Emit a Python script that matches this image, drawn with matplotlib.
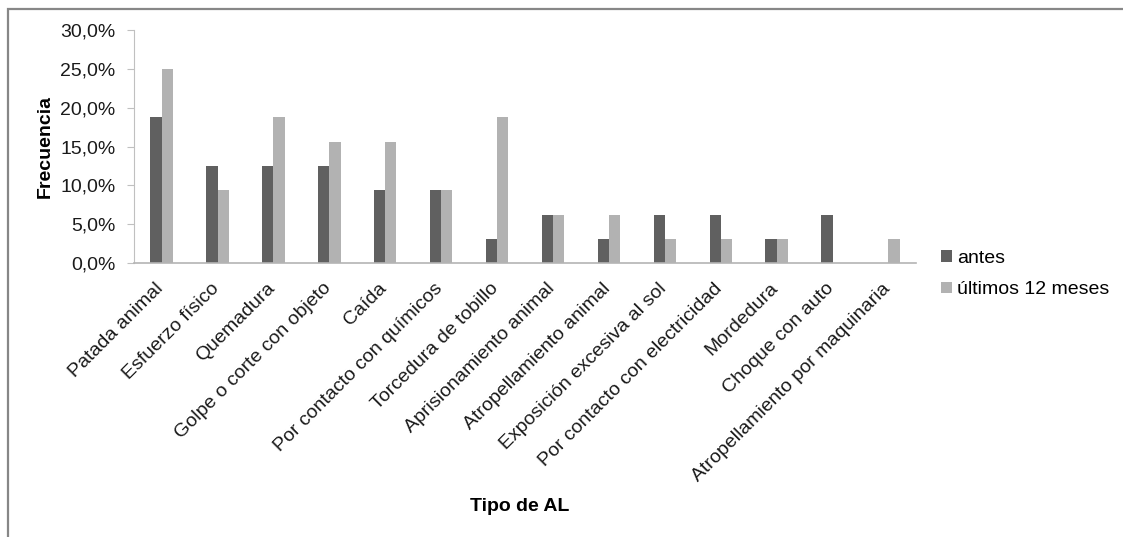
import numpy as np
import matplotlib
matplotlib.use("Agg")
import matplotlib.pyplot as plt
import matplotlib.transforms as mtransforms
from matplotlib.ticker import FuncFormatter, MultipleLocator
from matplotlib.patches import Rectangle

plt.rcParams['font.family'] = ['Liberation Sans', 'DejaVu Sans']

categorias = ["Patada animal", "Esfuerzo físico", "Quemadura",
              "Golpe o corte con objeto", "Caída", "Por contacto con químicos",
              "Torcedura de tobillo", "Aprisionamiento animal",
              "Atropellamiento animal", "Exposición excesiva al sol",
              "Por contacto con electricidad", "Mordedura", "Choque con auto",
              "Atropellamiento por maquinaria"]
antes = [18.75, 12.5, 12.5, 12.5, 9.375, 9.375, 3.125, 6.25, 3.125, 6.25,
         6.25, 3.125, 6.25, 0.0]
ultimos = [25.0, 9.375, 18.75, 15.625, 15.625, 9.375, 18.75, 6.25, 6.25,
           3.125, 3.125, 3.125, 0.0, 3.125]
series = ["antes", "últimos 12 meses"]
colores = ["#606060", "#b2b2b2"]

fs = 14

fig = plt.figure(figsize=(11.23, 5.37), dpi=100)
ax = fig.add_axes([0.119, 0.510, 0.697, 0.434])

# gray frame around the chart area
fig.patches.append(Rectangle((0.0075, -0.05), 1.5, 1.033, transform=fig.transFigure,
                             fill=False, edgecolor="#878787", linewidth=1.6))

x = np.arange(len(categorias))
w = 0.2
ax.bar(x - w / 2, antes, w, color=colores[0], label=series[0])
ax.bar(x + w / 2, ultimos, w, color=colores[1], label=series[1])

ax.set_xlim(-0.5, len(categorias) - 0.5)
ax.set_ylim(0, 30)
ax.yaxis.set_major_locator(MultipleLocator(5))
ax.yaxis.set_major_formatter(FuncFormatter(lambda v, p: f"{v:.1f}%".replace(".", ",")))

for s in ["top", "right"]:
    ax.spines[s].set_visible(False)
ax.spines["left"].set_color("#c0c0c0")
ax.spines["bottom"].set_color("#b4b4b4")
ax.spines["bottom"].set_linewidth(1.2)

ax.tick_params(axis="y", length=5, color="#c0c0c0", pad=8, labelsize=fs,
               labelcolor="#1a1a1a")
ax.tick_params(axis="x", length=0, pad=12)
ax.set_xticks(x)
ax.set_xticklabels(categorias, rotation=45, ha="right", rotation_mode="anchor",
                   fontsize=fs, color="#1a1a1a")
shift = mtransforms.ScaledTranslation(-7 / 100, 0, fig.dpi_scale_trans)
for lbl in ax.get_xticklabels():
    lbl.set_transform(lbl.get_transform() + shift)

ax.set_ylabel("Frecuencia", fontsize=fs, fontweight="bold", labelpad=5)
fig.text(0.463, 0.056, "Tipo de AL", ha="center", va="center",
         fontsize=fs, fontweight="bold")

ax.legend(loc="center left", bbox_to_anchor=(1.032, -0.047), frameon=False,
          fontsize=fs, handlelength=0.55, handleheight=0.55, handletextpad=0.25,
          labelspacing=0.75, borderpad=0, borderaxespad=0)

fig.savefig("out.png", dpi=100)
